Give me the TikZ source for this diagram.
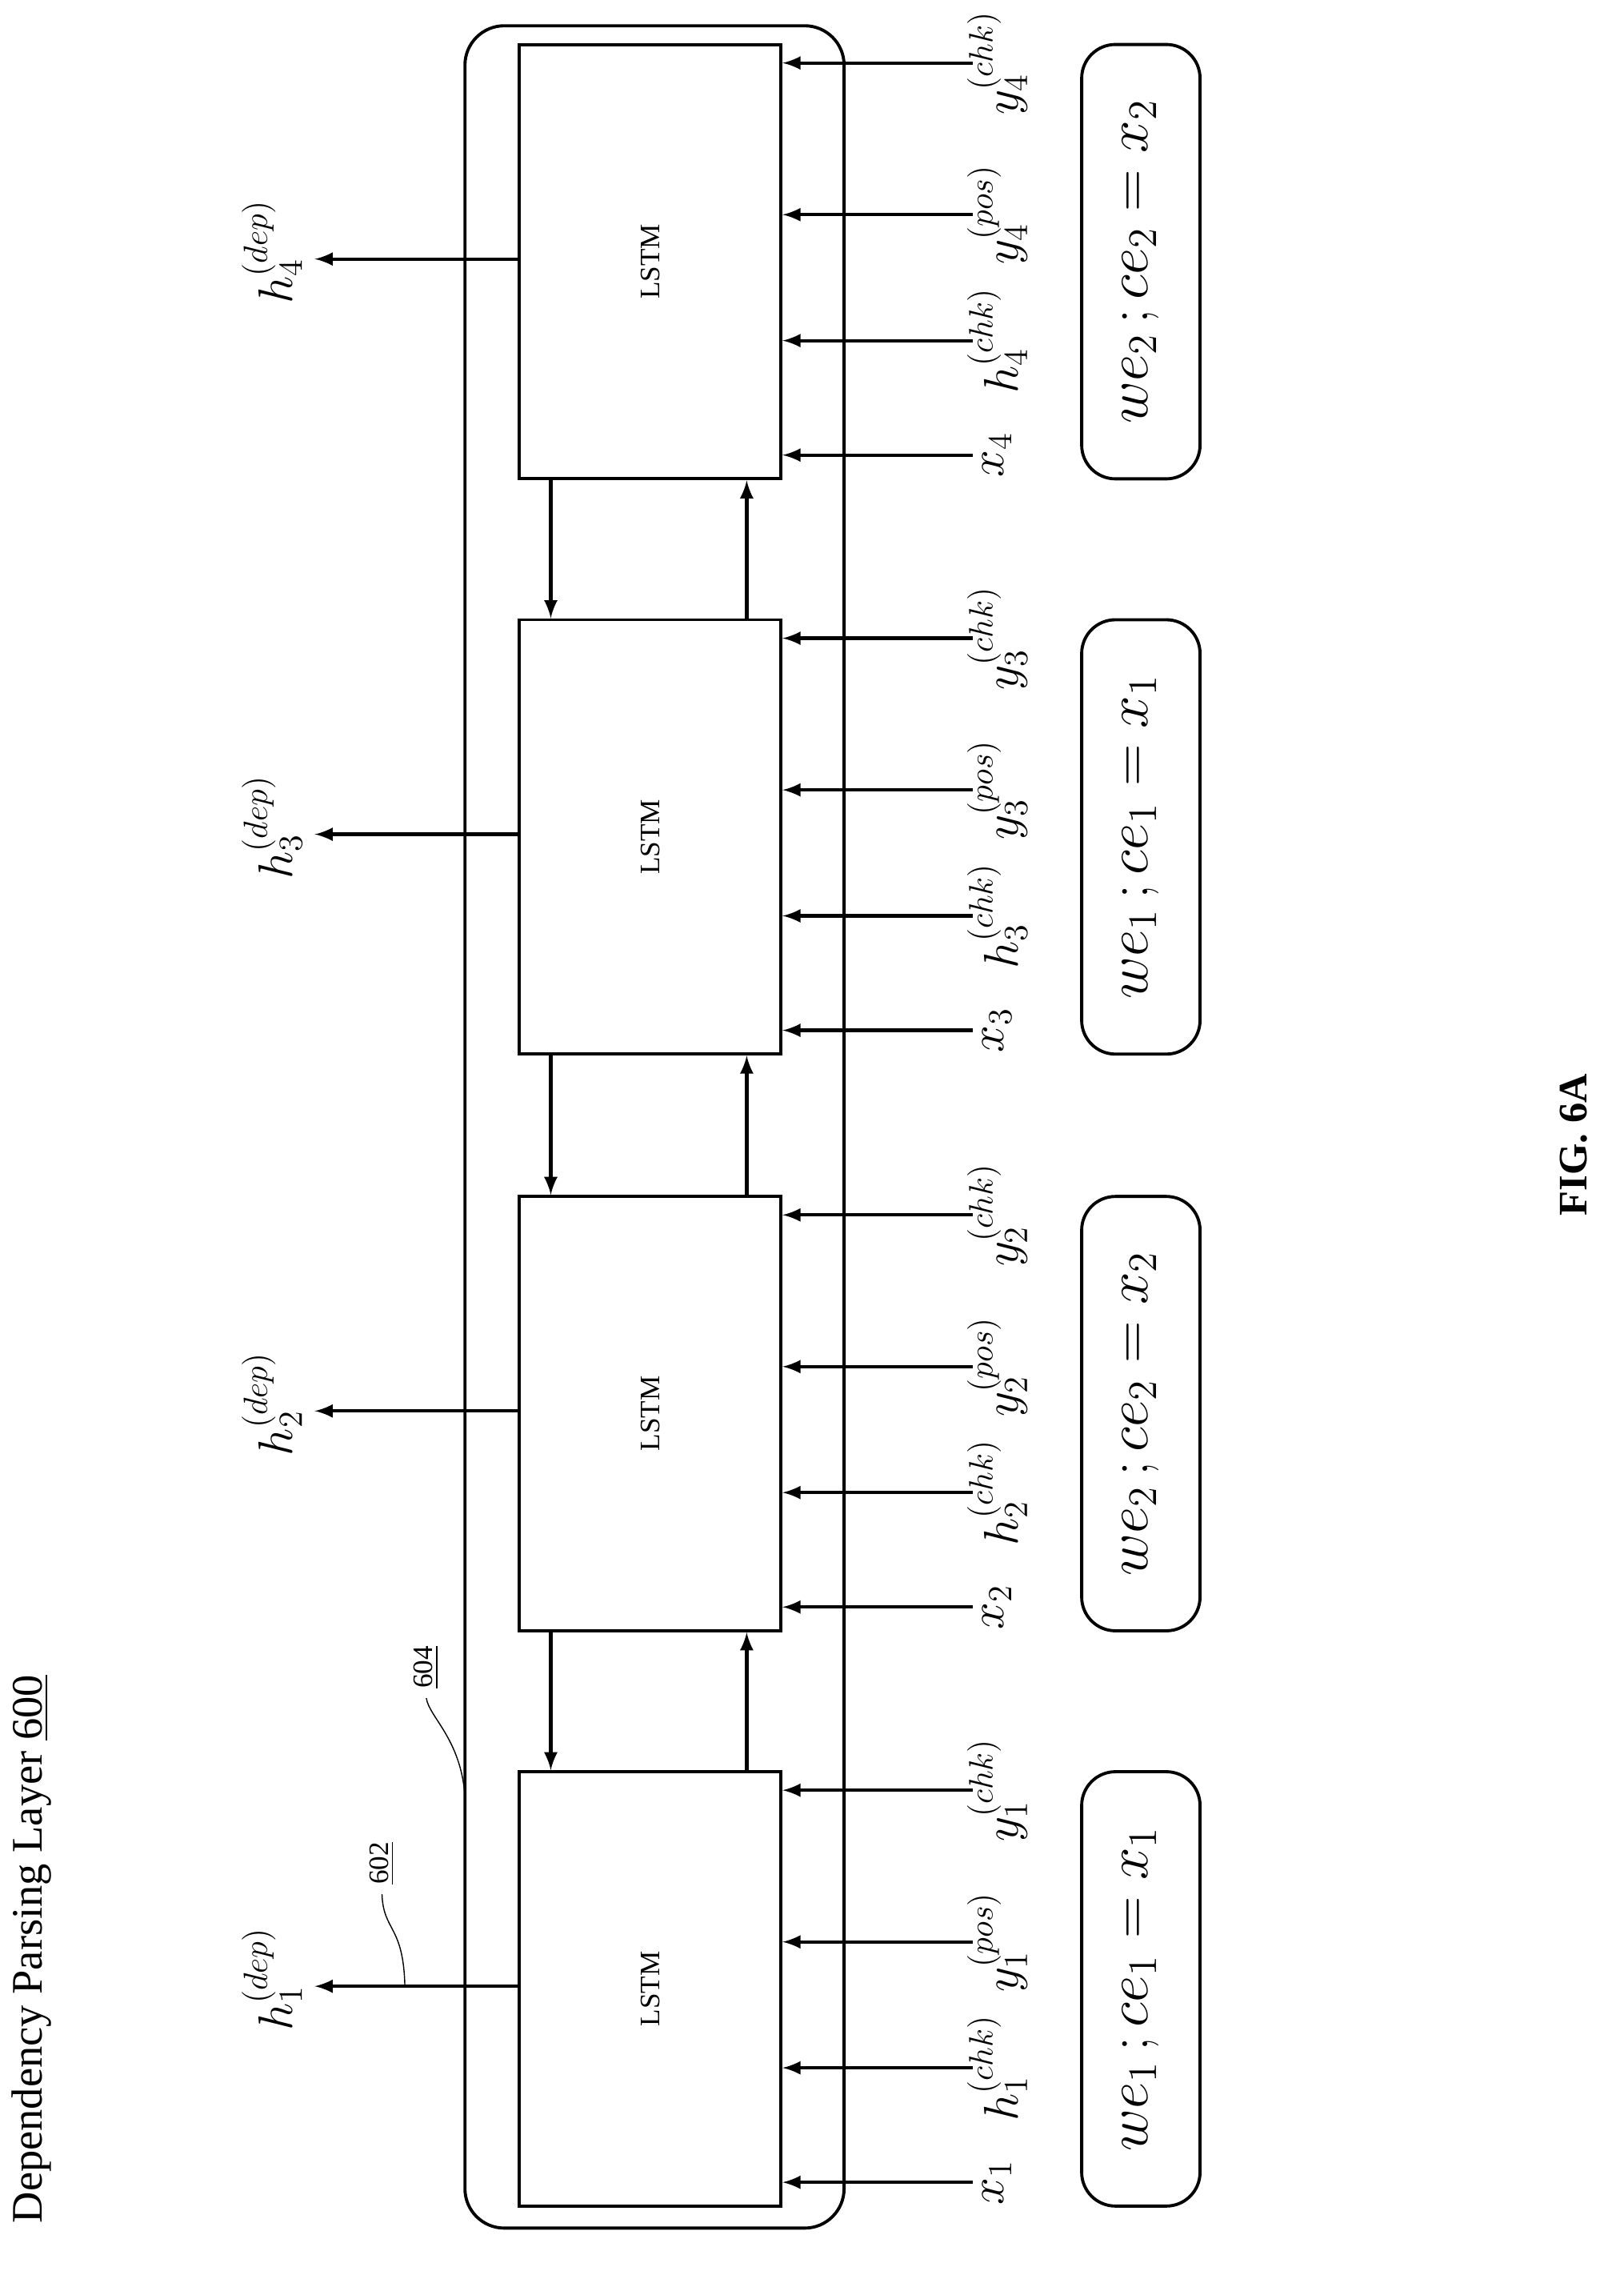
\documentclass[tikz,border=0pt]{standalone}
\usepackage{fontspec}
\setmainfont{Liberation Serif}
\usepackage{tikz}

\begin{document}
\begin{tikzpicture}[x=0.1789mm,y=-0.1789mm,
    cell/.style={draw,line width=1.1pt,minimum width=32.7mm,minimum height=54.3mm,inner sep=0pt},
    emb/.style={draw,line width=1.1pt,rounded corners=12pt,minimum width=14.8mm,minimum height=54.3mm,inner sep=0pt},
    lab/.style={rotate=90,font=\LARGE},
    arr/.style={-latex,line width=1.2pt}]
    \useasboundingbox (0,0) rectangle (1135,1587);
    \draw[line width=1.1pt,rounded corners=14pt] (325,18) rectangle (590,1557);
    \node[rotate=90,anchor=center,font=\fontsize{15.5}{18}\selectfont] (title) at (22,1362) {Dependency Parsing Layer \underline{600}};
    \node[rotate=90,font=\Large\bfseries] (fig) at (1100,800) {FIG. 6A};
    % the four LSTM cells, bottom one first
    \foreach \i/\t/\we in {1/1237/1, 2/835/2, 3/432/1, 4/30/2} {
      \node[cell,anchor=north west] (c\i) at (362,\t) {};
      \node[rotate=90] at (c\i.center) {LSTM};
      \node[emb,anchor=north west] (e\i) at (755,\t) {};
      \node[lab,font=\huge] at (e\i.center) {$we_{\we}\,;ce_{\we}=x_{\we}$};
      \coordinate (o\i) at (220,\t+151);
      \draw[arr] (c\i.west |- o\i) -- (o\i);
      \node[lab] (hd\i) at (190,\t+146) {$h_{\i}^{(dep)}$};
      \foreach \dy/\txt in {14/y_{\i}^{(chk)}, 120/y_{\i}^{(pos)}, 208/h_{\i}^{(chk)}, 288/x_{\i}} {
        \coordinate (in\i\dy) at (680,\t+\dy);
        \draw[arr] (in\i\dy) -- (c\i.east |- in\i\dy);
        \node[lab] at (697,\t+\dy) {$\txt$};
      }
    }
    % links between neighbouring cells
    \foreach \a/\b in {2/1, 3/2, 4/3} {
      \draw[arr] (c\a.south west) ++(23,0) coordinate (d\a) (d\a) -- (d\a |- c\b.north);
      \draw[arr] (c\b.north east) ++(-25,0) coordinate (u\b) (u\b) -- (u\b |- c\a.south);
    }
    \node[rotate=90] (n604) at (298,1165) {\underline{604}};
    \draw (n604.west) .. controls (300,1200) and (322,1215) .. (325,1255);
    \node[rotate=90] (n602) at (267,1302) {\underline{602}};
    \draw (n602.west) .. controls (268,1350) and (282,1345) .. (283,1388);
\end{tikzpicture}
\end{document}
